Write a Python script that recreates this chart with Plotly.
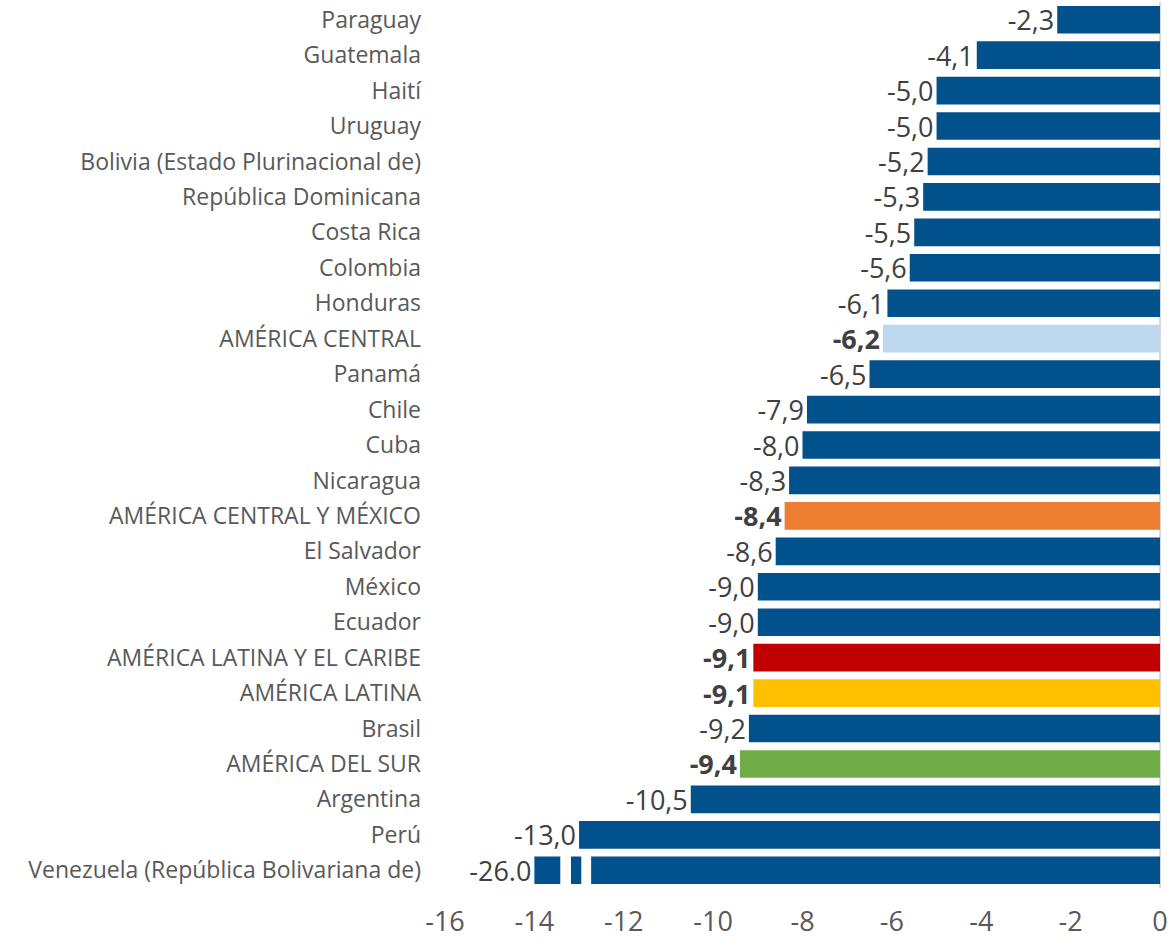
import plotly.graph_objects as go

categories = [
    "Paraguay", "Guatemala", "Haití", "Uruguay", "Bolivia (Estado Plurinacional de)",
    "República Dominicana", "Costa Rica", "Colombia", "Honduras", "AMÉRICA CENTRAL",
    "Panamá", "Chile", "Cuba", "Nicaragua", "AMÉRICA CENTRAL Y MÉXICO",
    "El Salvador", "México", "Ecuador", "AMÉRICA LATINA Y EL CARIBE", "AMÉRICA LATINA",
    "Brasil", "AMÉRICA DEL SUR", "Argentina", "Perú", "Venezuela (República Bolivariana de)",
]
values = [-2.3, -4.1, -5.0, -5.0, -5.2, -5.3, -5.5, -5.6, -6.1, -6.2,
          -6.5, -7.9, -8.0, -8.3, -8.4, -8.6, -9.0, -9.0, -9.1, -9.1,
          -9.2, -9.4, -10.5, -13.0, -26.0]
aggregates = {
    "AMÉRICA CENTRAL": "#BDD7EE",
    "AMÉRICA CENTRAL Y MÉXICO": "#ED7D31",
    "AMÉRICA LATINA Y EL CARIBE": "#C00000",
    "AMÉRICA LATINA": "#FFC000",
    "AMÉRICA DEL SUR": "#70AD47",
}
axis_cap = -14.0          # broken-axis cap for out-of-range bars
break_gaps = [(-13.42, -13.18), (-12.95, -12.73)]
tick_vals = [-16, -14, -12, -10, -8, -6, -4, -2, 0]

base_color = "#01518C"
plot_vals, texts, colors = [], [], []
for c, v in zip(categories, values):
    plot_vals.append(max(v, axis_cap))
    if v < axis_cap:
        s = f"{v:.1f}"
    else:
        s = f"{v:.1f}".replace(".", ",")
    if c in aggregates:
        texts.append(f"<b>{s}</b>")
        colors.append(aggregates[c])
    else:
        texts.append(s)
        colors.append(base_color)

fig = go.Figure(go.Bar(
    y=categories, x=plot_vals, orientation="h",
    marker=dict(color=colors, line=dict(width=0)),
    text=texts, textposition="outside", cliponaxis=False,
    constraintext="none",
    textfont=dict(family="Open Sans", size=27, color="#404040"),
    width=0.78,
))

shapes = []
for i, (c, v) in enumerate(zip(categories, values)):
    if v < axis_cap:
        for g0, g1 in break_gaps:
            shapes.append(dict(type="rect", xref="x", yref="y", x0=g0, x1=g1,
                               y0=i - 0.5, y1=i + 0.5, fillcolor="white",
                               line=dict(width=0), layer="above"))

fig.update_layout(
    width=1171, height=941,
    margin=dict(l=445, r=11, t=2, b=53),
    plot_bgcolor="white", paper_bgcolor="white",
    showlegend=False,
    shapes=shapes,
    font=dict(family="Open Sans", color="#595959"),
)
fig.update_xaxes(
    range=[-16, 0], tickvals=tick_vals, ticktext=[str(t) for t in tick_vals],
    showgrid=False, zeroline=True, zerolinecolor="#D9D9D9", zerolinewidth=2,
    showline=False, tickfont=dict(size=27, color="#595959"), ticks="",
    ticklabelstandoff=15, automargin=False,
)
fig.update_yaxes(
    autorange="reversed", showgrid=False, showline=False, ticks="",
    tickfont=dict(size=23, color="#595959"), ticklabelstandoff=23,
    automargin=False,
)
fig.write_html("out.html", post_script="document.body.style.margin='0';",
               config={"displayModeBar": False})
